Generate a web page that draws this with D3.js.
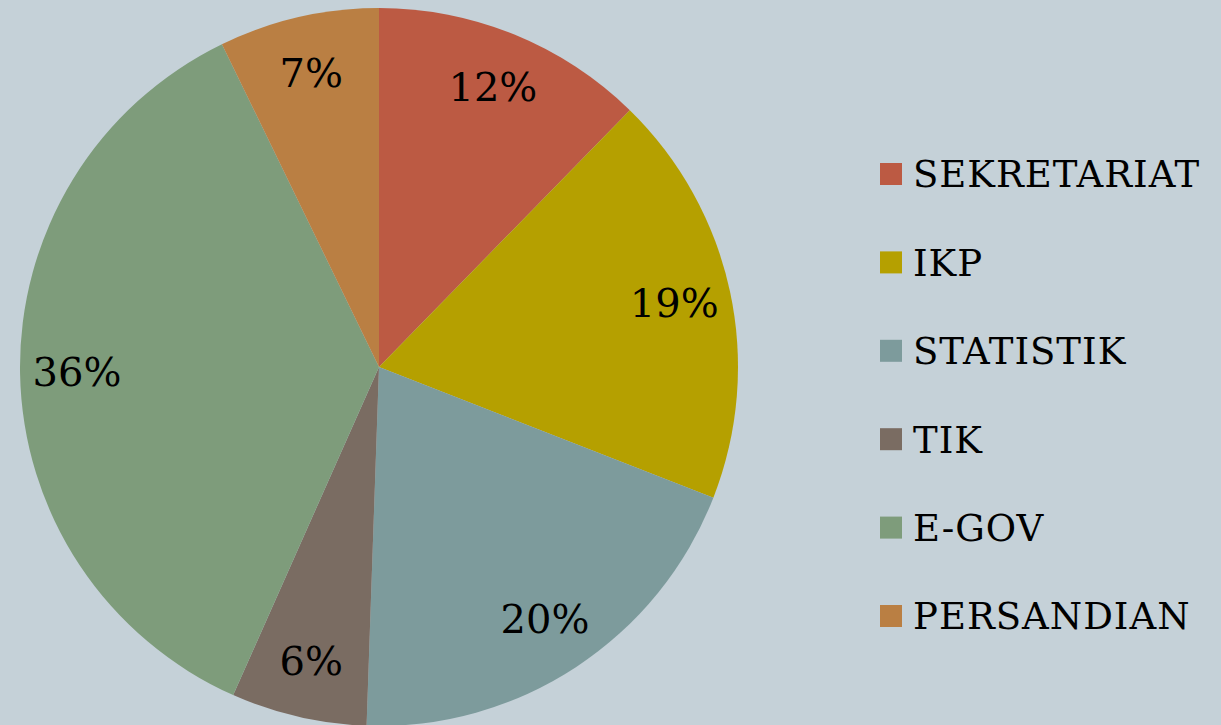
<!DOCTYPE html>
<html><head><meta charset="utf-8">
<script src="https://cdn.jsdelivr.net/npm/d3@7"></script>
<style>html,body{margin:0;padding:0;background:#C5D1D8;}svg{display:block;}</style>
</head><body>
<svg id="chart" width="1221" height="725"></svg>
<script>
const categories = ["SEKRETARIAT", "IKP", "STATISTIK", "TIK", "E-GOV", "PERSANDIAN"];
const values = [12.3, 18.6, 19.6, 6.1, 36.1, 7.2];
const colors = ["#BC5A43", "#B5A000", "#7D9B9C", "#7A6C62", "#7E9C7B", "#BA7F43"];

const svg = d3.select("#chart");
const cx = 379, cy = 367, R = 359, labelR = 302;
const total = d3.sum(values);
const data = categories.map((c, i) => ({name: c, value: values[i], color: colors[i]}));
const pie = d3.pie().sort(null).value(d => d.value);
const arcs = pie(data);
const arc = d3.arc().innerRadius(0).outerRadius(R);
const labelArc = d3.arc().innerRadius(labelR).outerRadius(labelR);

const g = svg.append("g").attr("transform", `translate(${cx},${cy})`);
g.selectAll("path").data(arcs).join("path")
  .attr("d", arc).attr("fill", d => d.data.color);
g.selectAll("text").data(arcs).join("text")
  .attr("transform", d => `translate(${labelArc.centroid(d)})`)
  .attr("text-anchor", "middle").attr("dy", "0.35em")
  .attr("font-family", "'DejaVu Serif', 'Liberation Serif', serif")
  .attr("font-size", 40).attr("fill", "#000")
  .text(d => Math.round(d.data.value / total * 100) + "%");

const leg = svg.append("g");
const ly = d3.scalePoint().domain(categories).range([174, 616]);
const item = leg.selectAll("g").data(data).join("g")
  .attr("transform", d => `translate(880,${ly(d.name)})`);
item.append("rect").attr("x", 0).attr("y", -11).attr("width", 22).attr("height", 22)
  .attr("fill", d => d.color);
item.append("text").attr("x", 33).attr("y", 0).attr("dy", "0.36em")
  .attr("font-family", "'DejaVu Serif', 'Liberation Serif', serif")
  .attr("font-size", 37).attr("letter-spacing", 1).attr("fill", "#000")
  .text(d => d.name);
</script>
</body></html>
